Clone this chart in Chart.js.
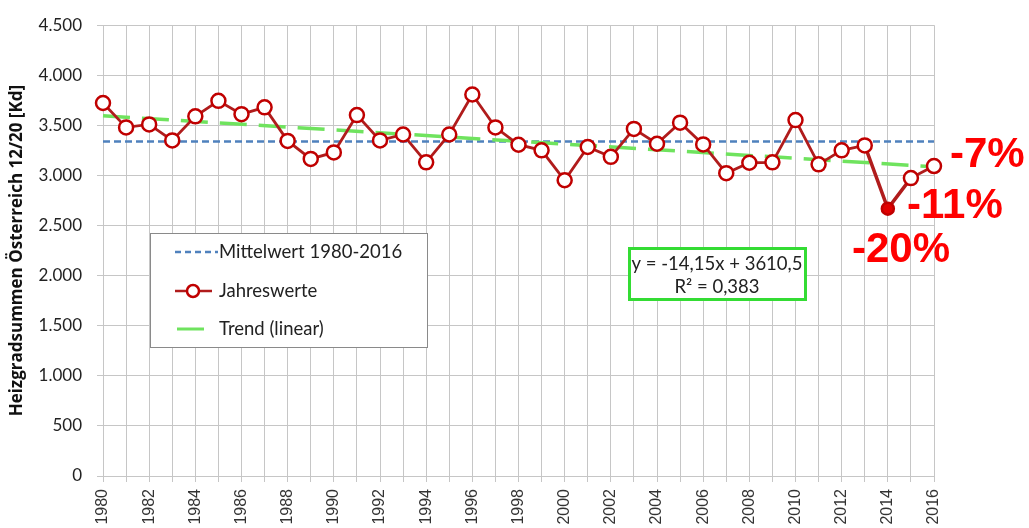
<!DOCTYPE html>
<html>
<head>
<meta charset="utf-8">
<title>Heizgradsummen Österreich</title>
<script src="https://cdn.jsdelivr.net/npm/chart.js@4.4.1/dist/chart.umd.min.js"></script>
<style>
    html, body { margin: 0; padding: 0; background: #fff; }
    #wrap { width: 1029px; height: 528px; position: relative; }
</style>
</head>
<body>
<div id="wrap"><canvas id="hgs-chart"></canvas></div>
<script>
// ===== Daten =====
const years = ['1980', '1981', '1982', '1983', '1984', '1985', '1986', '1987', '1988', '1989',
    '1990', '1991', '1992', '1993', '1994', '1995', '1996', '1997', '1998', '1999',
    '2000', '2001', '2002', '2003', '2004', '2005', '2006', '2007', '2008', '2009',
    '2010', '2011', '2012', '2013', '2014', '2015', '2016'];

const jahreswerte = [3723, 3480, 3510, 3350, 3590, 3745, 3612, 3680, 3345, 3165,
    3230, 3603, 3350, 3409, 3131, 3409, 3808, 3480, 3307, 3251,
    2952, 3284, 3186, 3465, 3317, 3527, 3310, 3023, 3127, 3131,
    3553, 3111, 3251, 3300, 2669, 2974, 3094];

// Mittelwert und Trendlinie: Endpunkte
const mittelwert = [{ x: '1980', y: 3340 }, { x: '2016', y: 3340 }];
const trend = [{ x: '1980', y: 3596 }, { x: '2016', y: 3087 }];

const highlightYear = '2014';
const equationLines = ['y = -14,15x + 3610,5', 'R² = 0,383'];
const deviationLabels = ['-7%', '-11%', '-20%'];

const yTitle = 'Heizgradsummen Österreich 12/20 [Kd]';

// ===== Helpers =====
const fmtThousands = v => String(v).replace(/\B(?=(\d{3})+(?!\d))/g, '.');
const highlightIdx = years.indexOf(highlightYear);

const COLORS = {
    grid: '#c6c6c6',
    mean: '#4f81bd',
    red: '#b01c1c',
    redMarker: '#c00000',
    trend: '#6fe35e',
    eqBorder: '#34dc34',
    annotation: '#ff0000',
    text: '#222'
};

// Legende + Gleichung + Prozent-Beschriftungen
const overlayPlugin = {
    id: 'overlay',
    afterDraw(chart) {
        const ctx = chart.ctx;
        ctx.save();

        // --- Legende ---
        ctx.fillStyle = '#fff';
        ctx.fillRect(150, 233, 277, 114);
        ctx.strokeStyle = '#8a8a8a';
        ctx.lineWidth = 1;
        ctx.strokeRect(150.5, 233.5, 277, 114);

        ctx.font = '18.5px Lato';
        ctx.fillStyle = COLORS.text;
        ctx.textBaseline = 'middle';
        ctx.textAlign = 'left';

        const ds = chart.data.datasets;
        const rows = [252, 291, 329];

        // Mittelwert
        ctx.strokeStyle = ds[0].borderColor;
        ctx.lineWidth = 2.5;
        ctx.setLineDash([6, 4]);
        ctx.beginPath(); ctx.moveTo(175, rows[0]); ctx.lineTo(218, rows[0]); ctx.stroke();
        ctx.setLineDash([]);
        ctx.fillText(ds[0].label, 219, rows[0]);

        // Jahreswerte
        ctx.strokeStyle = ds[1].borderColor;
        ctx.lineWidth = 2.5;
        ctx.beginPath(); ctx.moveTo(175, rows[1]); ctx.lineTo(212, rows[1]); ctx.stroke();
        ctx.beginPath(); ctx.arc(193, rows[1], 6, 0, Math.PI * 2);
        ctx.fillStyle = '#fff'; ctx.fill();
        ctx.strokeStyle = COLORS.redMarker; ctx.stroke();
        ctx.fillStyle = COLORS.text;
        ctx.fillText(ds[1].label, 219, rows[1]);

        // Trend
        ctx.strokeStyle = ds[2].borderColor;
        ctx.lineWidth = 3;
        ctx.beginPath(); ctx.moveTo(177, rows[2]); ctx.lineTo(204, rows[2]); ctx.stroke();
        ctx.fillText(ds[2].label, 219, rows[2]);

        // --- Gleichung ---
        ctx.fillStyle = '#fff';
        ctx.fillRect(628, 247, 178, 53);
        ctx.strokeStyle = COLORS.eqBorder;
        ctx.lineWidth = 3;
        ctx.strokeRect(629.5, 248.5, 176, 51);
        ctx.fillStyle = COLORS.text;
        ctx.textAlign = 'center';
        ctx.fillText(equationLines[0], 717, 264);
        ctx.fillText(equationLines[1], 717, 287);

        // --- Abweichungen vom Mittelwert ---
        ctx.font = 'bold 42px "Liberation Sans", Arial';
        ctx.fillStyle = COLORS.annotation;
        ctx.textAlign = 'left';
        ctx.textBaseline = 'alphabetic';
        ctx.fillText(deviationLabels[0], 950, 167);
        ctx.fillText(deviationLabels[1], 907, 218);
        ctx.fillText(deviationLabels[2], 852, 262);

        ctx.restore();
    }
};

new Chart(document.getElementById('hgs-chart'), {
    type: 'line',
    data: {
        labels: years,
        datasets: [
            {
                label: 'Mittelwert 1980-2016',
                data: mittelwert,
                borderColor: COLORS.mean,
                borderWidth: 2.5,
                borderDash: [7, 4],
                pointRadius: 0,
                order: 3
            },
            {
                label: 'Jahreswerte',
                data: jahreswerte,
                borderColor: COLORS.red,
                borderWidth: 2.8,
                pointRadius: ctx => ctx.dataIndex === highlightIdx ? 6 : 7,
                pointBorderWidth: 2.5,
                pointBorderColor: COLORS.redMarker,
                pointBackgroundColor: ctx => ctx.dataIndex === highlightIdx ? '#e10000' : '#fff',
                segment: {
                    borderWidth: ctx => (ctx.p0DataIndex === highlightIdx - 1 || ctx.p0DataIndex === highlightIdx) ? 3.5 : 2.8
                },
                tension: 0,
                order: 1
            },
            {
                label: 'Trend (linear)',
                data: trend,
                borderColor: COLORS.trend,
                borderWidth: 3.5,
                borderDash: [27, 12],
                pointRadius: 0,
                order: 2
            }
        ]
    },
    options: {
        responsive: true,
        maintainAspectRatio: false,
        animation: false,
        devicePixelRatio: 1,
        layout: { padding: { top: 18, right: 95, left: 0, bottom: 0 } },
        plugins: {
            legend: { display: false },
            tooltip: { enabled: false }
        },
        scales: {
            x: {
                type: 'category',
                offset: false,
                grid: { color: COLORS.grid, tickLength: 6 },
                border: { color: COLORS.grid },
                ticks: {
                    autoSkip: false,
                    minRotation: 90,
                    maxRotation: 90,
                    padding: 7,
                    color: '#333',
                    font: { family: '"Liberation Sans", Arial', size: 16 },
                    callback: (v, i) => i % 2 === 0 ? years[i] : ''
                },
                afterFit: s => { s.height = 52; }
            },
            y: {
                min: 0,
                max: 4500,
                grid: { color: COLORS.grid, tickLength: 6 },
                border: { color: COLORS.grid },
                ticks: {
                    stepSize: 500,
                    padding: 15,
                    color: COLORS.text,
                    font: { family: 'Lato', size: 17 },
                    callback: v => fmtThousands(v)
                },
                title: {
                    display: true,
                    text: yTitle,
                    color: '#111',
                    font: { family: '"Open Sans"', size: 17, weight: 'bold' },
                    padding: { top: 7, bottom: 0 }
                },
                afterFit: s => { s.width = 103; }
            }
        }
    },
    plugins: [overlayPlugin]
});
</script>
</body>
</html>
